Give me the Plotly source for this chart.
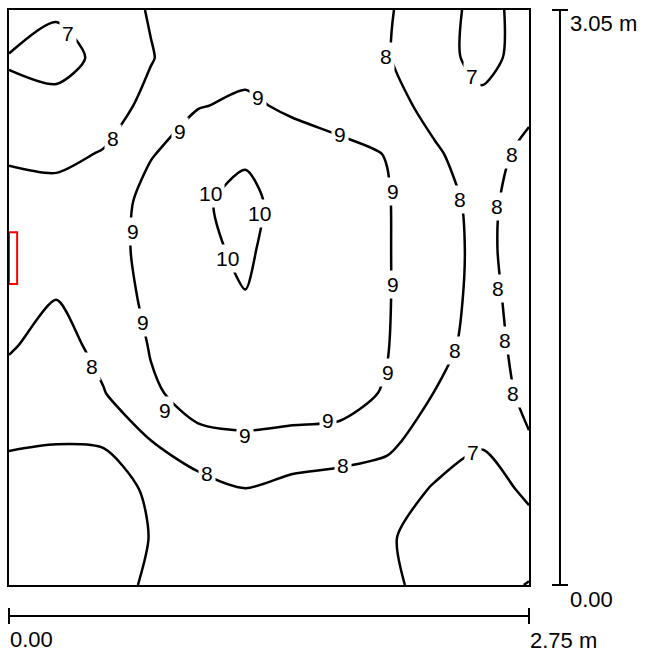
import plotly.graph_objects as go

# Room grid (metres): 2.75 m wide, 3.05 m deep
x_m = [0.0, 0.25, 0.5, 0.75, 1.0, 1.25, 1.5, 1.75, 2.0, 2.25, 2.5, 2.75]
y_m = [0.0, 0.254, 0.508, 0.762, 1.017, 1.271, 1.525, 1.779, 2.033, 2.288, 2.542, 2.796, 3.05]

# Calculated values on the grid, one list per row (bottom row first)
row_00 = [6.3, 6.4, 6.6, 7.15, 7.4, 7.5, 7.45, 7.3, 7.15, 6.75, 6.4, 5.95]
row_01 = [6.4, 6.5, 6.6, 7.02, 7.4, 7.6, 7.5, 7.2, 7.08, 6.7, 6.5, 6.6]
row_02 = [6.6, 6.7, 6.7, 7.1, 7.5, 7.98, 7.6, 7.3, 7.3, 6.95, 6.5, 7.2]
row_03 = [7.1, 7.02, 7.05, 7.98, 8.85, 8.9, 8.85, 8.85, 8.3, 7.3, 7.1, 7.94]
row_04 = [7.6, 7.5, 7.95, 8.9, 9.25, 9.35, 9.3, 9.2, 8.95, 7.98, 7.55, 8.2]
row_05 = [8.1, 7.6, 8.32, 9.05, 9.45, 9.6, 9.5, 9.35, 9.03, 8.35, 7.6, 8.35]
row_06 = [8.25, 8.02, 8.5, 9.2, 9.7, 9.97, 9.8, 9.35, 9.05, 8.45, 7.7, 8.4]
row_07 = [8.35, 8.45, 8.6, 9.3, 9.8, 10.15, 9.5, 9.3, 9.05, 8.45, 7.75, 8.5]
row_08 = [8.3, 8.3, 8.5, 9.3, 9.85, 10.3, 9.52, 9.3, 9.05, 8.4, 7.7, 8.5]
row_09 = [7.9, 7.8, 8.05, 8.95, 9.4, 9.85, 9.3, 9.15, 8.98, 8.1, 7.6, 8.25]
row_10 = [7.15, 7.25, 7.6, 8.24, 8.97, 9.1, 8.9, 8.75, 8.3, 7.75, 7.3, 7.8]
row_11 = [6.95, 6.7, 7.19, 7.95, 8.55, 8.8, 8.75, 8.5, 8.05, 7.5, 6.6, 7.5]
row_12 = [7.5, 7.1, 7.5, 8.07, 8.4, 8.6, 8.5, 8.3, 8.05, 7.7, 6.5, 7.55]

z_grid = [row_00, row_01, row_02, row_03, row_04, row_05, row_06,
          row_07, row_08, row_09, row_10, row_11, row_12]

# Isoline levels
levels = [6, 7, 8, 9, 10]

# Where each isoline carries its upright value label: (level, x, y)
label_spots = [
    (7, 0.312, 2.923), (7, 2.448, 2.696), (7, 2.454, 0.703),
    (8, 0.550, 2.368), (8, 1.994, 2.801), (8, 2.385, 2.045), (8, 2.359, 1.242),
    (8, 1.766, 0.634), (8, 1.047, 0.592), (8, 0.439, 1.157), (8, 2.660, 2.283),
    (8, 2.581, 2.008), (8, 2.586, 1.575), (8, 2.623, 1.295), (8, 2.665, 1.015),
    (9, 1.317, 2.585), (9, 0.904, 2.405), (9, 1.750, 2.389), (9, 2.031, 2.088),
    (9, 0.656, 1.876), (9, 2.031, 1.596), (9, 0.709, 1.390), (9, 2.004, 1.126),
    (9, 0.825, 0.925), (9, 1.248, 0.793), (9, 1.687, 0.872),
    (10, 1.063, 2.077), (10, 1.327, 1.971), (10, 1.153, 1.734),
]

# Scale-bar captions
width_label = "2.75 m"
depth_label = "3.05 m"
origin_label = "0.00"

FONT = "Liberation Sans, Arial, sans-serif"

fig = go.Figure()
fig.add_trace(go.Contour(
    x=x_m, y=y_m, z=z_grid,
    contours=dict(coloring="lines", start=min(levels), end=max(levels), size=1,
                  showlabels=False),
    colorscale=[[0, "black"], [1, "black"]],
    line=dict(width=2.5, smoothing=0.75),
    showscale=False,
    hoverinfo="skip",
))

# Upright value labels, each breaking its line with a white backing
for lvl, lx, ly in label_spots:
    fig.add_annotation(text=str(lvl), x=lx, y=ly, xref="x", yref="y",
                       showarrow=False, bgcolor="white", borderpad=2,
                       xanchor="center", yanchor="middle",
                       font=dict(family=FONT, size=21, color="black"))

# Window marker on the left wall
fig.add_shape(type="rect", xref="x", yref="y",
              x0=0.0, x1=0.043, y0=1.596, y1=1.871,
              line=dict(color="red", width=2), fillcolor="rgba(0,0,0,0)")

bar = dict(color="black", width=2)
# Horizontal scale bar (room width)
fig.add_shape(type="line", xref="paper", yref="paper", x0=0, x1=1, y0=-0.0537, y1=-0.0537, line=bar)
fig.add_shape(type="line", xref="paper", yref="paper", x0=0, x1=0, y0=-0.040, y1=-0.068, line=bar)
fig.add_shape(type="line", xref="paper", yref="paper", x0=1, x1=1, y0=-0.040, y1=-0.068, line=bar)
# Vertical scale bar (room depth)
fig.add_shape(type="line", xref="paper", yref="paper", x0=1.0596, x1=1.0596, y0=0, y1=1, line=bar)
fig.add_shape(type="line", xref="paper", yref="paper", x0=1.0442, x1=1.075, y0=0, y1=0, line=bar)
fig.add_shape(type="line", xref="paper", yref="paper", x0=1.0442, x1=1.075, y0=1, y1=1, line=bar)

ann_font = dict(family=FONT, size=22, color="black")
fig.add_annotation(text=origin_label, xref="paper", yref="paper", x=0, y=-0.094,
                   xanchor="left", yanchor="middle", showarrow=False, font=ann_font,
                   borderpad=0)
fig.add_annotation(text=width_label, xref="paper", yref="paper", x=1.0, y=-0.096,
                   xanchor="left", yanchor="middle", showarrow=False, font=ann_font,
                   borderpad=0)
fig.add_annotation(text=origin_label, xref="paper", yref="paper", x=1.0769, y=-0.026,
                   xanchor="left", yanchor="middle", showarrow=False, font=ann_font,
                   borderpad=0)
fig.add_annotation(text=depth_label, xref="paper", yref="paper", x=1.0769, y=0.977,
                   xanchor="left", yanchor="middle", showarrow=False, font=ann_font,
                   borderpad=0)

axis_common = dict(showgrid=False, zeroline=False, showticklabels=False, ticks="",
                   showline=True, mirror=True, linecolor="black", linewidth=2)
fig.update_xaxes(range=[0, 2.75], **axis_common)
fig.update_yaxes(range=[0, 3.05], **axis_common)

fig.update_layout(
    width=648, height=654,
    margin=dict(l=9, r=119, t=8, b=69),
    paper_bgcolor="white", plot_bgcolor="white",
    showlegend=False,
    font=dict(family=FONT),
)

fig.write_html("out.html", config={"displayModeBar": False})
